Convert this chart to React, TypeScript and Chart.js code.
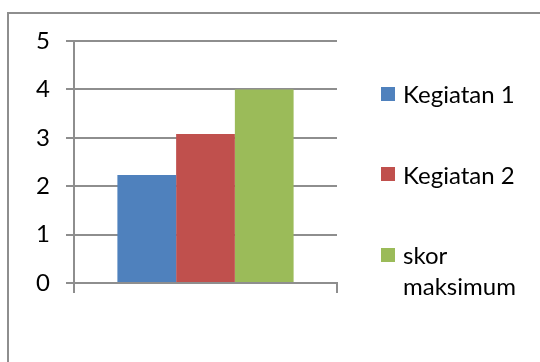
import React, { useEffect, useRef } from "react";
import { Chart, registerables } from "chart.js";

Chart.register(...registerables);

const categories = [""];
const seriesNames = ["Kegiatan 1", "Kegiatan 2", "skor maksimum"];
const kegiatan1 = [2.23];
const kegiatan2 = [3.08];
const skorMaksimum = [4];
const seriesColors = ["#4f81bd", "#c0504d", "#9bbb59"];
const yMin = 0;
const yMax = 5;
const yStep = 1;

const FONT = "Lato, 'Open Sans', sans-serif";
const GRID = "#8e8e8e";

export default function App() {
  const canvasRef = useRef<HTMLCanvasElement | null>(null);

  useEffect(() => {
    const canvas = canvasRef.current;
    if (!canvas) return;
    const values = [kegiatan1, kegiatan2, skorMaksimum];
    const chart = new Chart(canvas, {
      type: "bar",
      data: {
        labels: categories,
        datasets: seriesNames.map((name, i) => ({
          label: name,
          data: values[i],
          backgroundColor: seriesColors[i],
          borderWidth: 0,
          barPercentage: 1,
          categoryPercentage: 0.67,
        })),
      },
      options: {
        responsive: false,
        animation: false,
        layout: { padding: { left: 0, top: 41, right: 203, bottom: 69 } },
        plugins: { legend: { display: false }, tooltip: { enabled: false } },
        scales: {
          x: {
            offset: true,
            grid: {
              offset: true,
              drawOnChartArea: false,
              drawTicks: true,
              tickLength: 10,
              color: GRID,
              lineWidth: 2,
            },
            border: { display: true, color: GRID, width: 2 },
            ticks: { display: false },
            afterFit: (s: any) => {
              s.height = 10;
            },
          },
          y: {
            min: yMin,
            max: yMax,
            ticks: {
              stepSize: yStep,
              color: "#000",
              padding: 16,
              font: { family: FONT, size: 24 },
            },
            grid: { color: GRID, lineWidth: 2, tickLength: 8, drawTicks: true },
            border: { display: true, color: GRID, width: 2 },
            afterFit: (s: any) => {
              s.width = 74;
            },
          },
        },
      },
    });
    return () => chart.destroy();
  }, []);

  const rowCenter0 = 93.7;
  const rowGap = 80.5;
  const lineH = 31;

  return (
    <div
      style={{
        position: "absolute",
        left: 0,
        top: 0,
        width: 540,
        height: 362,
        overflow: "hidden",
        background: "#fff",
      }}
    >
      <div
        style={{
          position: "absolute",
          left: 7,
          top: 12,
          width: 600,
          height: 400,
          border: `2px solid ${GRID}`,
          boxSizing: "border-box",
        }}
      />
      <canvas
        ref={canvasRef}
        width={540}
        height={362}
        style={{ position: "absolute", left: 0, top: 0, width: 540, height: 362 }}
      />
      {seriesNames.map((name, i) => {
        const c = rowCenter0 + rowGap * i;
        return (
          <React.Fragment key={name}>
            <div
              style={{
                position: "absolute",
                left: 381,
                top: c - 7,
                width: 14,
                height: 14,
                background: seriesColors[i],
              }}
            />
            <div
              style={{
                position: "absolute",
                left: 403,
                top: c - lineH / 2,
                width: 125,
                lineHeight: `${lineH}px`,
                fontFamily: FONT,
                fontSize: 24,
                color: "#000",
                whiteSpace: "normal",
              }}
            >
              {name}
            </div>
          </React.Fragment>
        );
      })}
    </div>
  );
}
